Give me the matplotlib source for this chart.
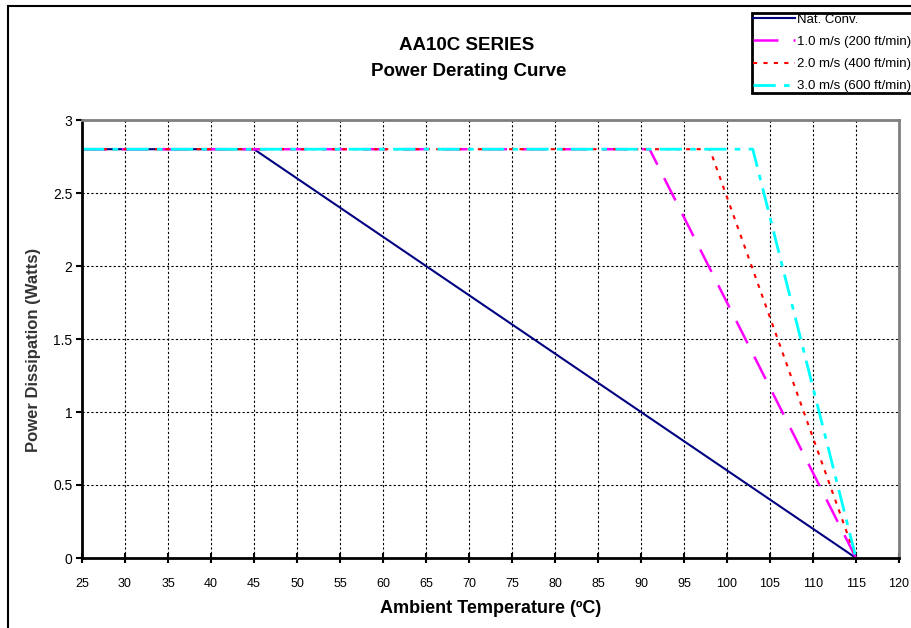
import matplotlib
matplotlib.use('Agg')
import matplotlib.pyplot as plt
from matplotlib.patches import Rectangle

plt.rcParams['font.family'] = ['Liberation Sans', 'DejaVu Sans']

# derating curves: temperature (C) vs power (W)
nat_temp = [25, 45, 115]
nat_power = [2.8, 2.8, 0]
air1_temp = [25, 91, 115]
air1_power = [2.8, 2.8, 0]
air2_temp = [25, 98, 115]
air2_power = [2.8, 2.8, 0]
air3_temp = [25, 103, 115]
air3_power = [2.8, 2.8, 0]

series_labels = ['Nat. Conv.', '1.0 m/s (200 ft/min)', '2.0 m/s (400 ft/min)', '3.0 m/s (600 ft/min)']
x_ticks = list(range(25, 121, 5))
y_ticks = [0, 0.5, 1, 1.5, 2, 2.5, 3]
y_tick_labels = ['0', '0.5', '1', '1.5', '2', '2.5', '3']

fig = plt.figure(figsize=(9.12, 6.28), dpi=100)
ax = fig.add_axes([82/912, 70/628, (899-82)/912, (558-120)/628])

# outer chart border (only left/top visible in the crop)
fig.patches.append(Rectangle((8/912, -0.2), 1.5, 1.2 - 6/628, transform=fig.transFigure,
                             fill=False, edgecolor='black', lw=1.5))

l1, = ax.plot(nat_temp, nat_power, color='#000080', lw=1.5, ls='-')
l2, = ax.plot(air1_temp, air1_power, color='#ff00ff', lw=1.8, ls=(0, (10, 6)))
l3, = ax.plot(air2_temp, air2_power, color='#ff0000', lw=1.5, ls=(0, (2, 3)))
l4, = ax.plot(air3_temp, air3_power, color='#00ffff', lw=2, ls=(0, (8, 3, 2, 3)))

ax.set_xlim(25, 120)
ax.set_ylim(0, 3)
ax.set_xticks(x_ticks)
ax.set_yticks(y_ticks)
ax.set_yticklabels(y_tick_labels)
ax.tick_params(axis='x', direction='inout', length=7, width=1.5, labelsize=9, pad=11)
ax.tick_params(axis='y', direction='out', length=4, width=1.5, labelsize=10, pad=3)
ax.grid(True, color='black', ls=(0, (2, 2)), lw=0.8)
ax.set_axisbelow(True)

for side in ['top', 'right']:
    ax.spines[side].set_color('#808080')
    ax.spines[side].set_linewidth(2)
for side in ['left', 'bottom']:
    ax.spines[side].set_color('black')
    ax.spines[side].set_linewidth(2)

ax.set_xlabel('Ambient Temperature (ºC)', fontsize=13, fontweight='bold', labelpad=7)
ax.set_ylabel('Power Dissipation (Watts)', fontsize=12, fontweight='bold', color='#333333')
ax.yaxis.set_label_coords(-0.05, 0.475)

fig.text(467/912, 1 - 46/628, 'AA10C SERIES', ha='center', va='center', fontsize=13.5, fontweight='bold')
fig.text(469/912, 1 - 72/628, 'Power Derating Curve', ha='center', va='center', fontsize=13.5, fontweight='bold')

leg = fig.legend([l1, l2, l3, l4], series_labels, loc='upper left',
                 bbox_to_anchor=(752/912, 1 - 13/628), fontsize=9.5,
                 frameon=True, fancybox=False, framealpha=1, edgecolor='black',
                 handlelength=3.2, handletextpad=0.15, borderpad=0.05, labelspacing=0.75,
                 borderaxespad=0)
leg.get_frame().set_linewidth(2)

fig.savefig('out.png', dpi=100)
